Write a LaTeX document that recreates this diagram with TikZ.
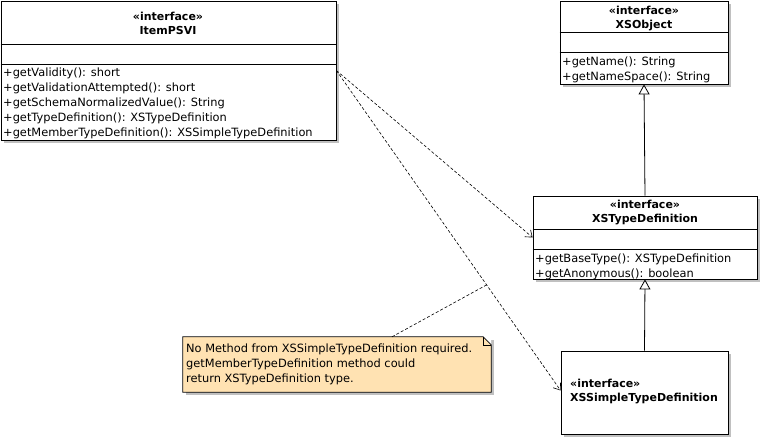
\documentclass[tikz,border=0pt]{standalone}
\usepackage{fontspec}
\setmainfont{DejaVu Sans}
\usepackage{xcolor}
\usetikzlibrary{arrows.meta,shadows,positioning}
\definecolor{notefill}{RGB}{255,226,178}
\definecolor{shadowgray}{RGB}{192,192,192}
\tikzset{
	classbox/.style={draw, fill=white, line width=0.8pt, inner sep=0pt,
		general shadow={fill=shadowgray, shadow xshift=3pt, shadow yshift=-3pt}},
	header/.style={font=\fontsize{11}{14}\selectfont\bfseries, align=center, inner sep=0pt},
	members/.style={font=\fontsize{11.4}{15}\selectfont, align=left, anchor=north west, inner sep=0pt},
	realize/.style={line width=0.6pt, dash pattern=on 3pt off 2pt, -{Straight Barb[length=6pt,width=9pt]}},
	notelink/.style={line width=0.6pt, dash pattern=on 3pt off 2pt},
	generalize/.style={line width=0.8pt, -{Triangle[open,length=10pt,width=11pt]}}
}
\begin{document}
\begin{tikzpicture}[x=1pt,y=-1pt]
	\useasboundingbox (0,0) rectangle (761,439);
	% classes
	\node[classbox, minimum width=335pt, minimum height=139pt] (itempsvi) at (168.5,70.5) {};
	\draw[line width=0.8pt] ([yshift=-44pt]itempsvi.north west) -- ([yshift=-44pt]itempsvi.north east);
	\draw[line width=0.8pt] ([yshift=-64pt]itempsvi.north west) -- ([yshift=-64pt]itempsvi.north east);
	\node[header] (itempsvi-name) at (168,23) {«interface»\\ItemPSVI};
	\node[members] (itempsvi-ops) at (3,68) {+getValidity(): short\\+getValidationAttempted(): short\\+getSchemaNormalizedValue(): String\\+getTypeDefinition(): XSTypeDefinition\\+getMemberTypeDefinition(): XSSimpleTypeDefinition};

	\node[classbox, minimum width=168pt, minimum height=83pt] (xsobject) at (644,42.5) {};
	\draw[line width=0.8pt] ([yshift=-32pt]xsobject.north west) -- ([yshift=-32pt]xsobject.north east);
	\draw[line width=0.8pt] ([yshift=-52pt]xsobject.north west) -- ([yshift=-52pt]xsobject.north east);
	\node[header] (xsobject-name) at (644,19) {«interface»\\XSObject};
	\node[members] (xsobject-ops) at (562,57) {+getName(): String\\+getNameSpace(): String};

	\node[classbox, minimum width=224pt, minimum height=83pt] (xstype) at (645,237.5) {};
	\draw[line width=0.8pt] ([yshift=-34pt]xstype.north west) -- ([yshift=-34pt]xstype.north east);
	\draw[line width=0.8pt] ([yshift=-54pt]xstype.north west) -- ([yshift=-54pt]xstype.north east);
	\node[header] (xstype-name) at (645,213) {«interface»\\XSTypeDefinition};
	\node[members] (xstype-ops) at (535,253.5) {+getBaseType(): XSTypeDefinition\\+getAnonymous(): boolean};

	\node[classbox, minimum width=167pt, minimum height=83pt] (xssimple) at (644.5,392.5) {};
	\node[header, align=left, anchor=west] (xssimple-name) at (570,392) {«interface»\\XSSimpleTypeDefinition};

	% note
	\node[fill=notefill, minimum width=308pt, minimum height=55pt, inner sep=0pt,
		general shadow={fill=shadowgray, shadow xshift=3pt, shadow yshift=-3pt}] (note) at (337,364.5) {};
	\fill[white] ([xshift=-8pt]note.north east) -- (note.north east) -- ([yshift=-8pt]note.north east) -- cycle;
	\draw[line width=0.8pt] (note.north west) -- ([xshift=-8pt]note.north east) -- ([yshift=-8pt]note.north east)
		-- (note.south east) -- (note.south west) -- cycle;
	\draw[line width=0.6pt] ([xshift=-8pt]note.north east) |- ([yshift=-8pt]note.north east);
	\node[members] (note-text) at (186,344) {No Method from XSSimpleTypeDefinition required.\\getMemberTypeDefinition method could\\return XSTypeDefinition type.};

	% connectors
	\draw[generalize] (xstype.north) -- (xsobject.south);
	\draw[generalize] (xssimple.north) -- (xstype.south);
	\draw[realize] (itempsvi.east) -- (xstype.west);
	\draw[realize] (itempsvi.east) -- coordinate[pos=0.67] (notehook) ([yshift=2pt]xssimple.west);
	\draw[notelink] ([xshift=55pt]note.north) -- (notehook);
\end{tikzpicture}
\end{document}
